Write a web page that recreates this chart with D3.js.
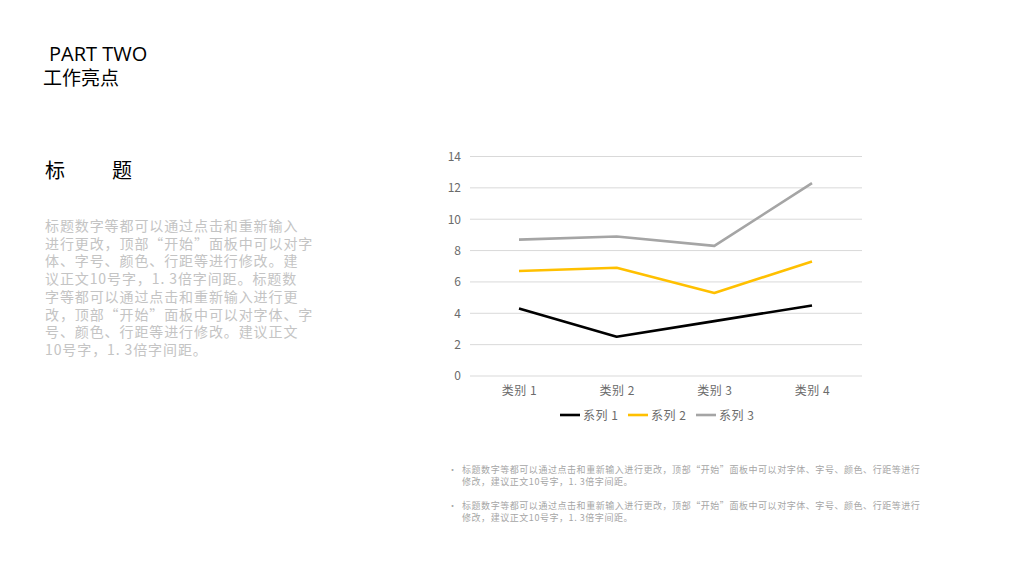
<!DOCTYPE html>
<html>
<head>
  <meta charset="utf-8">
  <script src="https://d3js.org/d3.v7.min.js"></script>
  <style type="text/css">
    body { margin: 0; background: #fff; }
    svg text { font-family: "Noto Sans CJK SC", "Noto Sans", sans-serif; }
  </style>
</head>
<body>
  <script type="text/javascript">
    // chart data (stacked line, values as plotted)
    var categories = ['类别 1', '类别 2', '类别 3', '类别 4'];
    var seriesNames = ['系列 1', '系列 2', '系列 3'];
    var series1 = [4.3, 2.5, 3.5, 4.5];
    var series2 = [6.7, 6.9, 5.3, 7.3];
    var series3 = [8.7, 8.9, 8.3, 12.3];
    var yTicks = [0, 2, 4, 6, 8, 10, 12, 14];

    var bodyLines = [
      '标题数字等都可以通过点击和重新输入',
      '进行更改，顶部“开始”面板中可以对字',
      '体、字号、颜色、行距等进行修改。建',
      '议正文10号字，1. 3倍字间距。标题数',
      '字等都可以通过点击和重新输入进行更',
      '改，顶部“开始”面板中可以对字体、字',
      '号、颜色、行距等进行修改。建议正文',
      '10号字，1. 3倍字间距。'
    ];
    var noteLines = [
      ['标题数字等都可以通过点击和重新输入进行更改，顶部“开始”面板中可以对字体、字号、颜色、行距等进行',
       '修改，建议正文10号字，1. 3倍字间距。'],
      ['标题数字等都可以通过点击和重新输入进行更改，顶部“开始”面板中可以对字体、字号、颜色、行距等进行',
       '修改，建议正文10号字，1. 3倍字间距。']
    ];

    var width = 1024, height = 576;
    var svg = d3.select('body').append('svg')
      .attr('width', width)
      .attr('height', height);

    // headings
    svg.append('text').attr('x', 49).attr('y', 61)
      .style('font-family', '"Open Sans", "Noto Sans", sans-serif')
      .style('font-size', '20px').attr('fill', '#000').text('PART TWO');
    svg.append('text').attr('x', 43).attr('y', 85)
      .style('font-size', '19px').attr('fill', '#000').text('工作亮点');
    svg.append('text').attr('x', 45).attr('y', 178)
      .style('font-size', '20px').style('letter-spacing', '2.3px')
      .attr('fill', '#000').text('标　　题');

    // left paragraph
    svg.append('g').selectAll('text')
      .data(bodyLines)
      .enter()
      .append('text')
      .attr('x', 45)
      .attr('y', function (d, i) { return 231 + i * 17.7; })
      .style('font-size', '14px')
      .style('letter-spacing', '0.9px')
      .attr('fill', '#c4c4c4')
      .text(function (d) { return d; });

    // chart
    var x = d3.scalePoint().domain(categories).range([519, 812]);
    var y = d3.scaleLinear().domain([0, 14]).range([376, 156.5]);

    var grid = svg.append('g');
    grid.selectAll('line')
      .data(yTicks)
      .enter()
      .append('line')
      .attr('x1', 470).attr('x2', 862)
      .attr('y1', function (d) { return y(d); })
      .attr('y2', function (d) { return y(d); })
      .attr('stroke', '#d9d9d9').attr('stroke-width', 1);

    var yAxis = d3.axisLeft(y).tickValues(yTicks).tickSize(0).tickPadding(0);
    var ya = svg.append('g').attr('transform', 'translate(461,0)').call(yAxis);
    ya.select('.domain').remove();
    ya.selectAll('text').style('font-size', '12px').attr('fill', '#6b6b6b')
      .style('font-family', '"Noto Sans CJK SC", sans-serif');

    var xAxis = d3.axisBottom(x).tickSize(0).tickPadding(0);
    var xa = svg.append('g').attr('transform', 'translate(0,386)').call(xAxis);
    xa.select('.domain').remove();
    xa.selectAll('text').style('font-size', '12px').attr('fill', '#6b6b6b')
      .style('letter-spacing', '0.5px')
      .style('font-family', '"Noto Sans CJK SC", sans-serif');

    var colors = ['#000000', '#FFC000', '#A5A5A5'];
    var allSeries = [series1, series2, series3];
    var line = d3.line()
      .x(function (d, i) { return x(categories[i]); })
      .y(function (d) { return y(d); });

    svg.append('g').selectAll('path')
      .data(allSeries)
      .enter()
      .append('path')
      .attr('d', line)
      .attr('fill', 'none')
      .attr('stroke', function (d, i) { return colors[i]; })
      .attr('stroke-width', 2.6)
      .attr('stroke-linejoin', 'round');

    // legend
    var legendX = [560, 628, 696];
    var lg = svg.append('g').selectAll('g')
      .data(seriesNames)
      .enter()
      .append('g')
      .attr('transform', function (d, i) { return 'translate(' + legendX[i] + ',415)'; });
    lg.append('line').attr('x1', 0).attr('x2', 20).attr('y1', 0).attr('y2', 0)
      .attr('stroke', function (d, i) { return colors[i]; }).attr('stroke-width', 2.6);
    lg.append('text').attr('x', 23).attr('y', 4.5)
      .style('font-size', '12px').style('letter-spacing', '0.5px').attr('fill', '#6b6b6b')
      .text(function (d) { return d; });

    // bullet notes
    var notes = svg.append('g').selectAll('g')
      .data(noteLines)
      .enter()
      .append('g')
      .attr('transform', function (d, i) { return 'translate(0,' + (473 + i * 36) + ')'; });
    notes.append('text').attr('x', 448).attr('y', 0)
      .style('font-size', '9px').attr('fill', '#a6a6a6').text('•');
    notes.selectAll('text.ln')
      .data(function (d) { return d; })
      .enter()
      .append('text')
      .attr('class', 'ln')
      .attr('x', 462)
      .attr('y', function (d, i) { return i * 12; })
      .style('font-size', '9px')
      .style('letter-spacing', '0.55px')
      .attr('fill', '#a6a6a6')
      .text(function (d) { return d; });
  </script>
</body>
</html>
